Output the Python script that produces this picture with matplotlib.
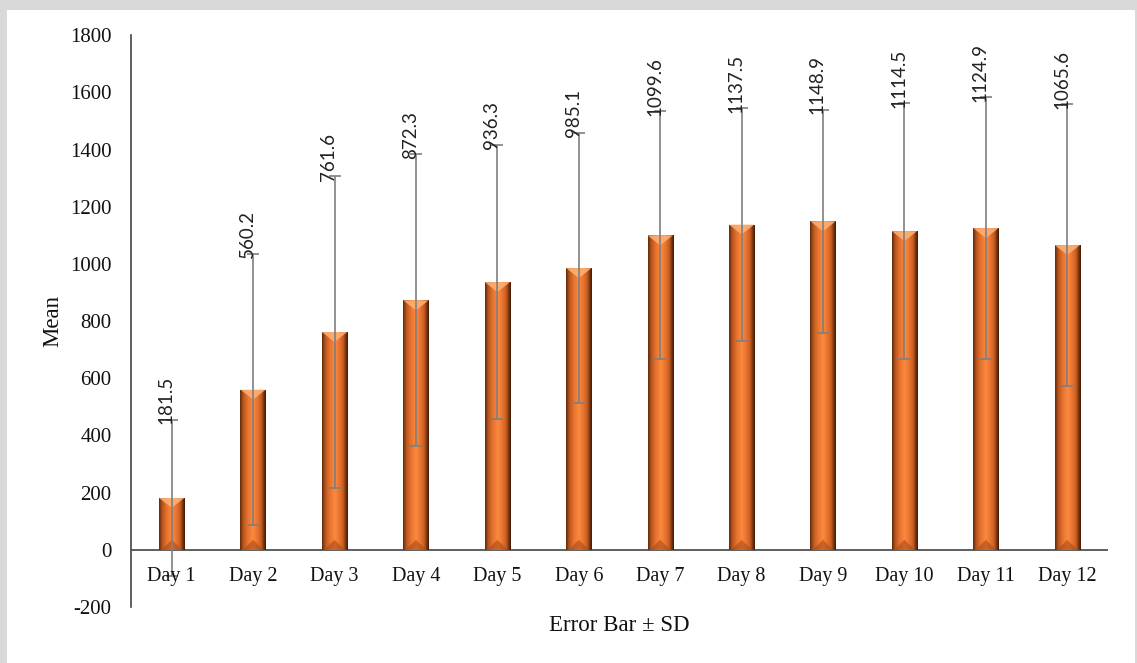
import numpy as np
import matplotlib.pyplot as plt
from matplotlib.colors import LinearSegmentedColormap
from matplotlib.patches import Polygon, Rectangle

plt.rcParams['axes.unicode_minus'] = False

# data
days = ['Day 1', 'Day 2', 'Day 3', 'Day 4', 'Day 5', 'Day 6',
        'Day 7', 'Day 8', 'Day 9', 'Day 10', 'Day 11', 'Day 12']
means = [181.5, 560.2, 761.6, 872.3, 936.3, 985.1,
         1099.6, 1137.5, 1148.9, 1114.5, 1124.9, 1065.6]
sds = [272, 475, 544, 511, 480, 473, 434, 406, 390, 447, 457, 492]

fig = plt.figure(figsize=(11.37, 6.63), dpi=100)
# gray frame around the picture
fig.patches.append(Rectangle((0, 0), 1, 1, transform=fig.transFigure,
                             facecolor='#d9d9d9', edgecolor='none', zorder=-10))
fig.patches.append(Rectangle((7 / 1137, 0), 1 - 9 / 1137, 1 - 10 / 663,
                             transform=fig.transFigure, facecolor='white',
                             edgecolor='none', zorder=-9))

ax = fig.add_axes([0.1152, 0.0845, 0.8593, 0.8625])
ax.patch.set_alpha(0)

x = np.arange(len(days))
w = 0.31
bars = ax.bar(x, means, width=w, color='#e8732e', zorder=2)

# bevelled/cylindrical look: horizontal gradient clipped to each bar
cmap = LinearSegmentedColormap.from_list('bev', [
    (0.0, '#5e2a0c'), (0.12, '#b9561f'), (0.3, '#e8732e'), (0.5, '#fb8a3f'),
    (0.62, '#f07a33'), (0.82, '#c95f22'), (0.92, '#7a3510'), (1.0, '#3e1a06')])
grad = np.linspace(0, 1, 64).reshape(1, -1)
for b, m in zip(bars, means):
    x0 = b.get_x()
    im = ax.imshow(grad, cmap=cmap, aspect='auto', zorder=2.1,
                   extent=(x0, x0 + w, 0, m), interpolation='bicubic')
    im.set_clip_path(b)
    # lighter triangle at the top, darker one at the bottom
    t = 35
    top = Polygon([(x0, m), (x0 + w, m), (x0 + w / 2, m - t)],
                  closed=True, facecolor='#ffb277', edgecolor='none',
                  alpha=0.85, zorder=2.2)
    bot = Polygon([(x0 + 0.03, 0), (x0 + w - 0.03, 0), (x0 + w / 2, t)],
                  closed=True, facecolor='#a84a17', edgecolor='none',
                  alpha=0.6, zorder=2.2)
    ax.add_patch(top)
    ax.add_patch(bot)

ax.errorbar(x, means, yerr=sds, fmt='none', ecolor='#7f7f7f',
            elinewidth=1.2, capsize=4, capthick=1.2, zorder=3)

for xi, m, s in zip(x, means, sds):
    ax.text(xi - 0.07, m + s - 15, f'{m:.1f}', rotation=90,
            ha='center', va='bottom', fontsize=13.5,
            family='Lato', color='#222222', zorder=4)

# category labels just below the zero line
for xi, d in zip(x, days):
    ax.text(xi, -95, d, ha='center', va='center', fontsize=14.5,
            family='Liberation Serif', color='#111111', zorder=4)

ax.set_xlim(-0.5, 11.5)
ax.set_ylim(-200, 1800)
ax.set_yticks(np.arange(-200, 1801, 200))
ax.set_xticks([])

for s in ['top', 'right', 'bottom']:
    ax.spines[s].set_visible(False)
ax.spines['left'].set_color('#444444')
ax.spines['left'].set_linewidth(1.2)
ax.axhline(0, color='#444444', lw=1.2, zorder=1)

ax.tick_params(axis='y', length=0, labelsize=15, pad=14, labelcolor='#111111')
for lab in ax.get_yticklabels():
    lab.set_family('Liberation Serif')

ax.set_xlabel('Error Bar ± SD', family='Liberation Serif', fontsize=16.5,
              labelpad=6, color='#111111')
ax.set_ylabel('Mean', family='Liberation Serif', fontsize=16.5, labelpad=5,
              color='#111111')

plt.savefig('out.png', dpi=100)
